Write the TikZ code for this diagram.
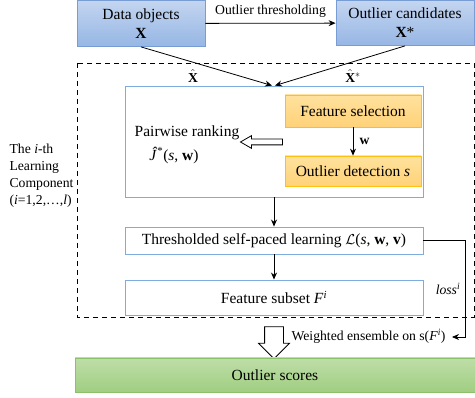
\documentclass[tikz,border=0pt]{standalone}
\usepackage{amsmath}
\usepackage{fontspec}
\setmainfont{Liberation Serif}
\usepackage{tikz}
\usetikzlibrary{arrows.meta,shapes.arrows}

\definecolor{blueTop}{RGB}{196,213,240}
\definecolor{blueBot}{RGB}{150,182,228}
\definecolor{blueLine}{RGB}{120,156,212}
\definecolor{frameBlue}{RGB}{125,172,222}
\definecolor{orangeTop}{RGB}{255,226,158}
\definecolor{orangeBot}{RGB}{255,210,120}
\definecolor{orangeLine}{RGB}{255,192,20}
\definecolor{greenTop}{RGB}{190,222,168}
\definecolor{greenBot}{RGB}{160,206,130}
\definecolor{greenLine}{RGB}{140,192,106}

\begin{document}
\begin{tikzpicture}[x=1pt, y=-1pt, >={Stealth[length=7pt,width=6pt]},
    every node/.style={font=\fontsize{15.5}{19}\selectfont},
    smalltext/.style={font=\fontsize{13.7}{17}\selectfont},
    databox/.style={draw=blueLine, line width=0.8pt, top color=blueTop, bottom color=blueBot, align=center, inner sep=0pt},
    featbox/.style={draw=orangeLine, line width=0.8pt, top color=orangeTop, bottom color=orangeBot, inner sep=0pt},
    framebox/.style={draw=frameBlue, line width=0.9pt, fill=white, inner sep=0pt},
    hollow/.style={single arrow, draw, line width=0.8pt, fill=white, single arrow head indent=0pt},
    conn/.style={line width=0.8pt, ->}]
    \useasboundingbox (0,0) rectangle (475,398);

    % Learning component frame
    \draw[line width=0.8pt, dash pattern=on 5pt off 4pt] (77,63) rectangle (474,317);
    \node[smalltext, anchor=west, align=left] (lab) at (6,175.5)
        {The \textit{i}-th\\Learning\\Component\\(\textit{i}=1,2,\dots,\textit{l})};

    % Input data
    \node[databox, minimum width=128pt, minimum height=46pt] (data) at (141,23.5) {Data objects\\\textbf{X}};
    \node[databox, minimum width=138pt, minimum height=45pt] (cand) at (405,23) {Outlier candidates\\\textbf{X}*};
    \draw[conn] (data) -- node[smalltext, above, yshift=2pt] {Outlier thresholding} (cand);

    % Inner block
    \node[framebox, minimum width=298pt, minimum height=111pt] (inner) at (274,141.5) {};
    \draw[conn] (data.south) -- ([xshift=-2pt]inner.north);
    \draw[conn] (cand.south) -- ([xshift=1pt]inner.north);
    \node[smalltext] (xhat) at (193,76) {$\hat{\mathbf{X}}$};
    \node[smalltext] (xhatstar) at (353,76) {$\hat{\mathbf{X}}^{*}$};

    \node[featbox, minimum width=136pt, minimum height=32pt] (fsel) at (353,111) {Feature selection};
    \node[featbox, minimum width=136pt, minimum height=30pt] (odet) at (353,171) {Outlier detection \textit{s}};
    \draw[conn] (fsel.south) -- node[right, xshift=3pt, font=\fontsize{13.7}{17}\selectfont] {\textbf{w}} (odet.north);

    \node (rank) at (187,133) {Pairwise ranking};
    \node (jfun) at (174,155) {\textit{\^{J}}\textsuperscript{*}(\textit{s}, \textbf{w})};
    \node[hollow, shape border rotate=180, minimum height=42pt, inner sep=2.5pt,
          single arrow head extend=3.5pt, single arrow tip angle=60] (rankarrow) at (264,142) {};

    % Self-paced learning and subset
    \node[framebox, minimum width=298pt, minimum height=27pt] (spl) at (274,240.5)
        {Thresholded self-paced learning $\mathcal{L}$(\textit{s}, \textbf{w}, \textbf{v})};
    \node[framebox, minimum width=298pt, minimum height=35pt] (subset) at (274,297.5)
        {Feature subset \textit{F}\textsuperscript{\textit{i}}};
    \draw[conn] (inner.south) -- (spl.north);
    \draw[conn] (spl.south) -- (subset.north);

    % Loss feedback
    \coordinate (lossturn) at (465,240.5);
    \coordinate (lossend) at (452,337);
    \draw[conn] (spl.east) -- (lossturn) |- (lossend);
    \node[smalltext] (loss) at (448,289) {\textit{loss}\textsuperscript{\textit{i}}};

    % Ensemble
    \node[hollow, shape border rotate=270, minimum height=32pt, inner sep=9pt,
          single arrow head extend=6pt, single arrow tip angle=90] (ensarrow) at (274,338) {};
    \node[smalltext, anchor=west] (ens) at (288,336) {Weighted ensemble on s(\textit{F}\textsuperscript{\textit{i}})};
    \node[draw=greenLine, line width=0.8pt, top color=greenTop, bottom color=greenBot,
          minimum width=400pt, minimum height=34pt, inner sep=0pt] (scores) at (275,375) {Outlier scores};
\end{tikzpicture}
\end{document}
